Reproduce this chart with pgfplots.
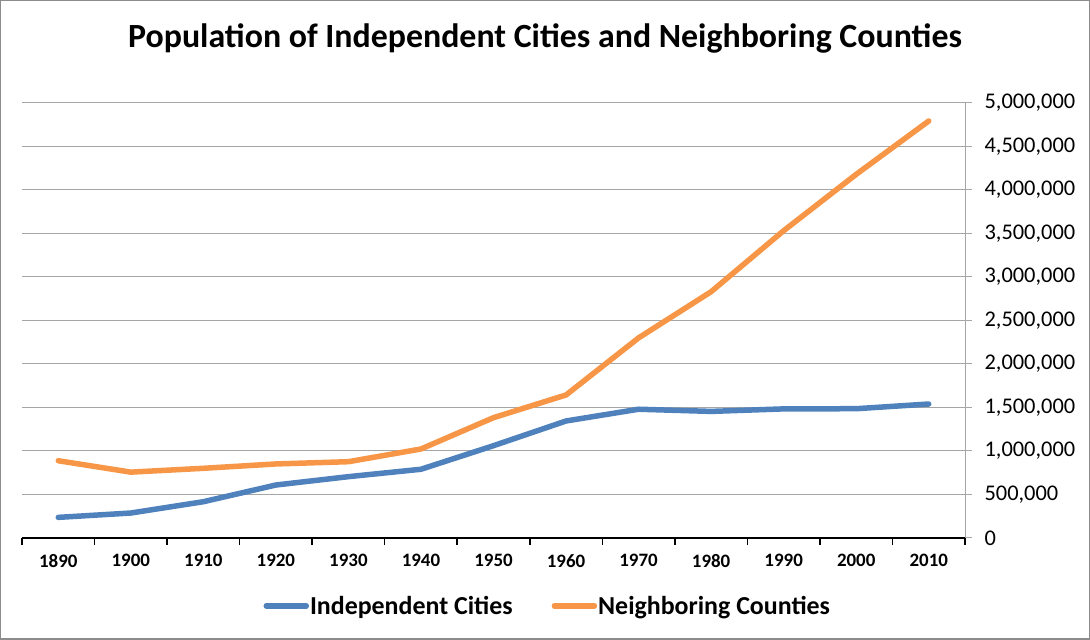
\documentclass[border=0pt]{standalone}
\usepackage{pgfplots}
\pgfplotsset{compat=1.18}
\usepackage{fontspec}
\setmainfont{Carlito}
\definecolor{cblue}{HTML}{4F81BD}
\definecolor{corange}{HTML}{F79646}
\definecolor{gridgray}{HTML}{A6A6A6}
\definecolor{framegray}{HTML}{8C8C8C}

\begin{document}
\begin{tikzpicture}[x=1bp,y=1bp]
\draw[framegray, line width=1.5bp] (0.75,0.75) rectangle (1089.25,639.25);
\node[font=\fontsize{34}{40}\selectfont\bfseries] at (545,602) {Population of Independent Cities and Neighboring Counties};
\begin{axis}[
  at={(22bp,102bp)}, anchor=south west,
  scale only axis, width=943bp, height=435bp,
  xmin=-0.5, xmax=12.5, ymin=0, ymax=5000000,
  axis x line*=bottom, axis y line*=right,
  x axis line style={black, line width=1.5bp},
  y axis line style={gridgray, line width=1bp},
  xtick={-0.5,0.5,...,12.5}, xticklabels={},
  x tick style={black, line width=1.5bp},
  major tick length=7bp, tick align=outside,
  extra x ticks={0,1,2,3,4,5,6,7,8,9,10,11,12},
  extra x tick labels={1890,1900,1910,1920,1930,1940,1950,1960,1970,1980,1990,2000,2010},
  extra x tick style={major tick length=0pt, tick label style={font=\fontsize{19}{22}\selectfont\bfseries, yshift=-13bp}},
  ytick={0,500000,...,5000000},
  y tick style={gridgray, line width=1bp},
  ymajorgrids, grid style={gridgray, line width=1bp},
  yticklabel style={font=\fontsize{22.5}{26}\selectfont, xshift=9bp, /pgf/number format/.cd, fixed, 1000 sep={,}, assume math mode=true},
  scaled y ticks=false,
  legend columns=2,
  legend style={at={(0.557,-0.156)}, anchor=center, draw=none, fill=none,
    font=\fontsize{26}{30}\selectfont\bfseries,
    /tikz/every even column/.append style={column sep=38bp},
    inner sep=0pt, nodes={inner sep=1bp}},
  legend image code/.code={\draw[#1, line cap=round] (0bp,0bp) -- (40bp,0bp);},
]
\addplot[cblue, line width=5.5bp, line join=round, line cap=round] coordinates {
(0,237000) (1,287000) (2,417000) (3,609000) (4,705000) (5,790000) (6,1061000)
(7,1345000) (8,1480000) (9,1455000) (10,1484000) (11,1486000) (12,1540000)};
\addlegendentry{Independent Cities}
\addplot[corange, line width=5.5bp, line join=round, line cap=round] coordinates {
(0,888000) (1,757000) (2,801000) (3,851000) (4,877000) (5,1023000) (6,1383000)
(7,1644000) (8,2300000) (9,2831000) (10,3532000) (11,4180000) (12,4793000)};
\addlegendentry{Neighboring Counties}
\end{axis}
\end{tikzpicture}
\end{document}
